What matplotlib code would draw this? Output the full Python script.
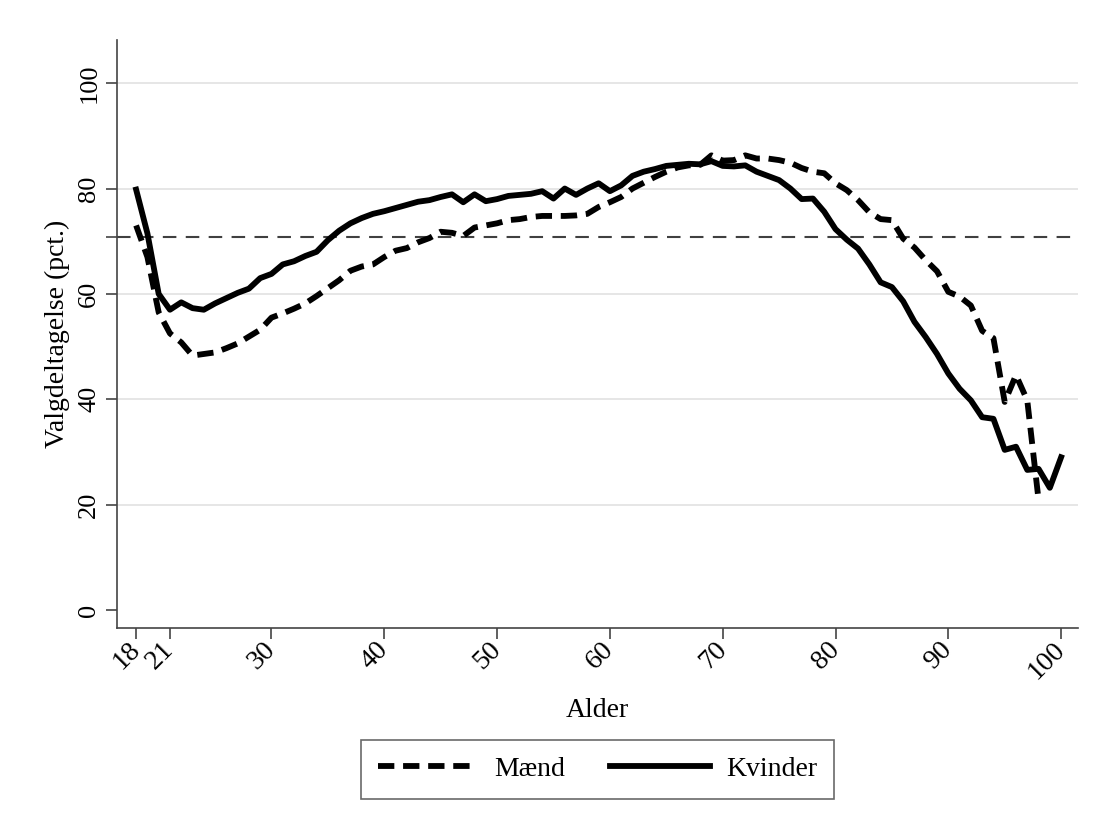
import matplotlib
matplotlib.use("Agg")
import matplotlib.pyplot as plt
import numpy as np

plt.rcParams['font.family'] = ['Liberation Serif', 'DejaVu Serif']

# Valgdeltagelse efter alder
ages_kvinder = list(range(18, 101))
kvinder = [79.8, 71.5, 60.0, 57.0, 58.4, 57.3, 57.0, 58.2, 59.2, 60.2,
           61.0, 63.0, 63.8, 65.6, 66.2, 67.2, 68.0, 70.2, 72.0, 73.4,
           74.4, 75.2, 75.7, 76.3, 76.9, 77.5, 77.8, 78.4, 78.9, 77.4,
           78.9, 77.6, 78.0, 78.6, 78.8, 79.0, 79.5, 78.1, 80.0, 78.8,
           80.0, 81.0, 79.5, 80.6, 82.4, 83.2, 83.7, 84.3, 84.5, 84.7,
           84.6, 85.2, 84.3, 84.2, 84.4, 83.2, 82.4, 81.6, 80.0, 78.0,
           78.1, 75.6, 72.3, 70.3, 68.6, 65.6, 62.2, 61.3, 58.6, 54.7,
           51.8, 48.6, 44.9, 42.0, 39.8, 36.6, 36.3, 30.4, 31.0, 26.6,
           26.8, 23.2, 29.0]

ages_maend = list(range(18, 99))
maend = [73.0, 67.0, 56.5, 52.5, 50.8, 48.3, 48.6, 48.9, 49.7, 50.6,
         51.9, 53.2, 55.5, 56.3, 57.2, 58.2, 59.6, 61.1, 62.6, 64.4,
         65.2, 65.6, 67.0, 68.2, 68.7, 69.8, 70.6, 71.8, 71.6, 71.0,
         72.6, 73.0, 73.4, 74.0, 74.2, 74.6, 74.8, 74.8, 74.8, 74.9,
         75.2, 76.5, 77.4, 78.4, 80.0, 81.1, 82.2, 83.2, 84.0, 84.4,
         84.5, 86.3, 85.3, 85.4, 86.3, 85.7, 85.7, 85.4, 84.9, 83.9,
         83.2, 82.9, 81.0, 79.7, 77.8, 75.5, 74.2, 74.0, 70.5, 68.8,
         66.4, 64.3, 60.4, 59.5, 57.8, 53.0, 51.6, 39.5, 44.6, 39.8,
         20.9]

gennemsnit = 70.8
xticks = [18, 21, 30, 40, 50, 60, 70, 80, 90, 100]
yticks = [0, 20, 40, 60, 80, 100]

fig = plt.figure(figsize=(10.95, 8.24), dpi=100)
ax = fig.add_axes([0.1068, 0.2379, 0.8777, 0.7136])

for y in yticks[1:]:
    ax.axhline(y, color='#e6e6e6', lw=1.4, zorder=0)
ax.axhline(gennemsnit, color='#404040', lw=1.5, dashes=(6.5, 4.5), zorder=1)

ax.plot(ages_maend, maend, color='black', lw=4.2, dashes=(2.8, 1.5),
        label='Mænd', zorder=3)
ax.plot(ages_kvinder, kvinder, color='black', lw=4.2, label='Kvinder', zorder=3)

ax.set_xlim(16.3, 101.5)
ax.set_ylim(-3.4, 108.2)

for s in ['top', 'right']:
    ax.spines[s].set_visible(False)
for s in ['left', 'bottom']:
    ax.spines[s].set_color('#444444')
    ax.spines[s].set_linewidth(1.2)

ax.set_xticks(xticks)
ax.set_yticks(yticks)
ax.set_yticks([gennemsnit], minor=True)
ax.tick_params(axis='both', which='both', length=8, width=1.2, color='#444444',
               labelsize=19, pad=4)
ax.tick_params(axis='x', labelsize=20, pad=5)
for lab in ax.get_xticklabels():
    lab.set_rotation(45)
    lab.set_ha('right')
    lab.set_va('center')
    lab.set_rotation_mode('anchor')
for lab in ax.get_yticklabels():
    lab.set_rotation(90)
    lab.set_va('center')

ax.set_xlabel('Alder', fontsize=20, labelpad=10)
ax.set_ylabel('Valgdeltagelse (pct.)', fontsize=20, labelpad=6)

leg = fig.legend(loc='upper center', bbox_to_anchor=(0.546, 0.102), ncol=2,
                 fontsize=20, handlelength=3.6, handletextpad=0.6,
                 columnspacing=1.6, borderpad=0.6, borderaxespad=0,
                 fancybox=False, edgecolor='#444444')
leg.get_frame().set_linewidth(1.2)

fig.savefig('out.png', dpi=100)
